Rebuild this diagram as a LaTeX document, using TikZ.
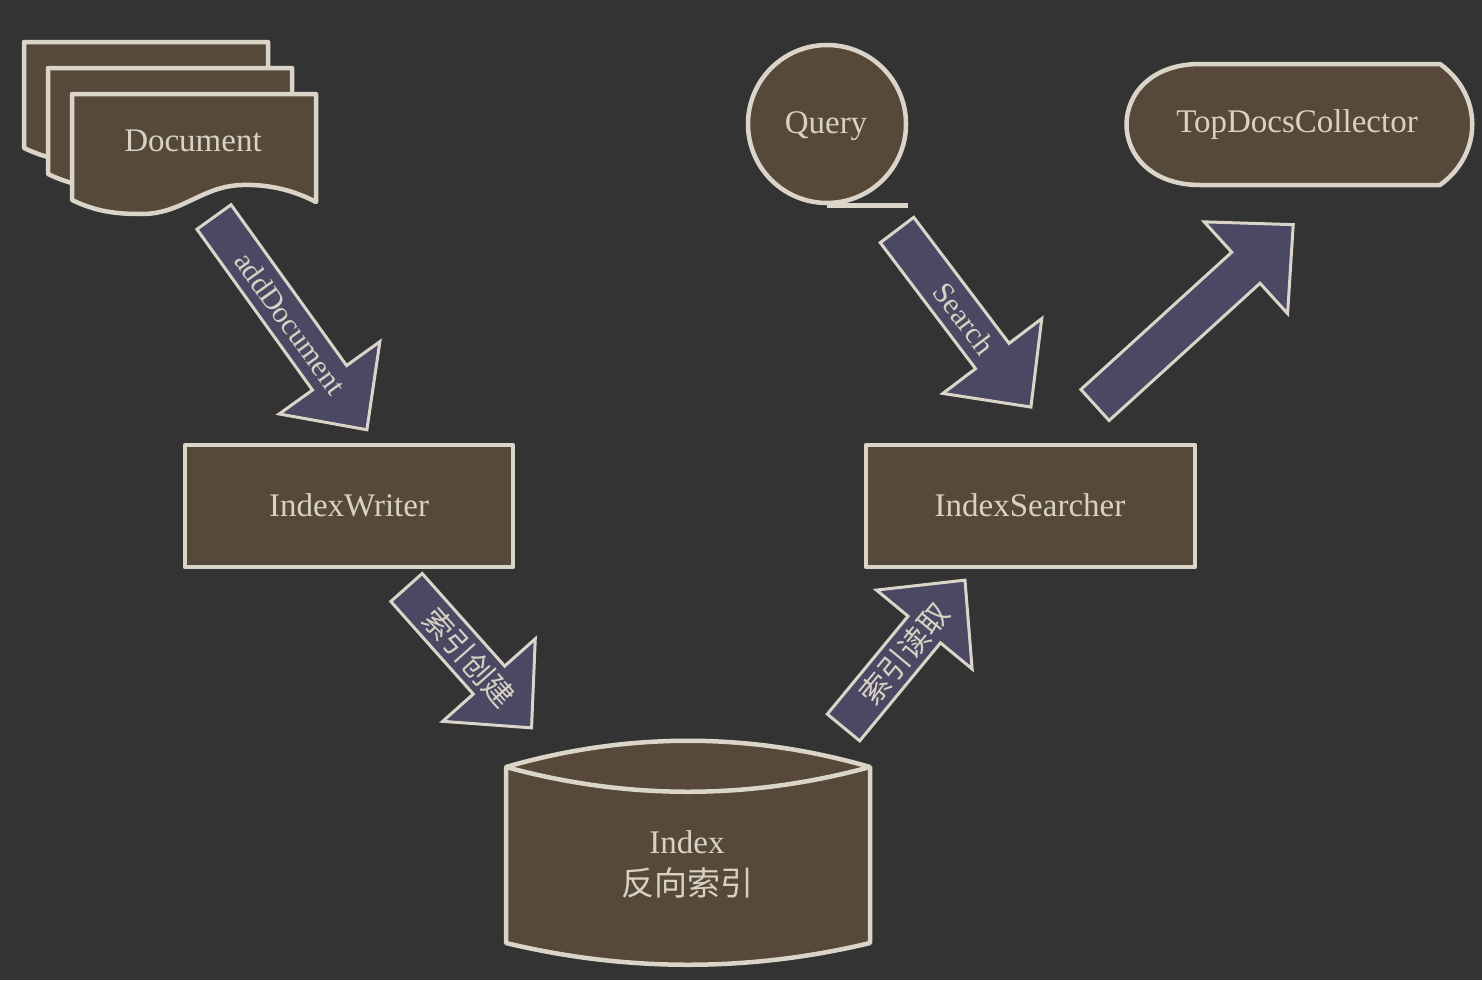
\documentclass[tikz,border=0pt]{standalone}
\usepackage{fontspec}
\setmainfont{Liberation Serif}
\newfontfamily\cjk{Noto Sans CJK SC}
\definecolor{bg}{HTML}{333333}
\definecolor{nodefill}{HTML}{57493A}
\definecolor{edgecol}{HTML}{DAD5C8}
\definecolor{arrfill}{HTML}{4A4862}
\definecolor{txtcol}{HTML}{D8D2C4}
\tikzset{
  shapesty/.style={draw=edgecol, line width=4.5pt, fill=nodefill, line join=round},
  linesty/.style={draw=edgecol, line width=4.5pt},
  arrowsty/.style={draw=edgecol, line width=3pt, fill=arrfill, line join=miter},
  lbl/.style={text=txtcol, font=\fontsize{33}{42}\selectfont, align=center, inner sep=0pt},
  alabel/.style={text=txtcol, font=\fontsize{30}{36}\selectfont, inner sep=0pt, transform shape},
}
\newcommand\blockarrow[6]{% name, x, y, angle, length, text
  \begin{scope}[shift={(#2,#3)},rotate=#4]
    \draw[arrowsty] (0,21) -- ({#5-64},21) -- ({#5-64},62) -- (#5,0) -- ({#5-64},-62) -- ({#5-64},-21) -- (0,-21) -- cycle;
    \node[alabel] (#1) at ({#5/2},0) {#6};
  \end{scope}}
\newcommand\docpage[2]{%
  \draw[shapesty, shift={(#1,#2)}] (0,0) -- (244,0) -- (244,108)
    .. controls (225,98) and (200,90) .. (170,91)
    .. controls (130,92) and (110,120) .. (70,120)
    .. controls (45,120) and (25,118) .. (0,106) -- cycle;}
\begin{document}
\begin{tikzpicture}[x=1pt,y=-1pt]
  \fill[bg] (0,0) rectangle (1482,980);
  \useasboundingbox (0,0) rectangle (1482,980);

  % Document stack
  \docpage{24}{42}
  \docpage{48}{68}
  \docpage{72}{94}
  \node[lbl] (doc) at (193,141) {Document};

  % Query (sequential storage)
  \node[shapesty, circle, minimum size=158, inner sep=0pt] (query) at (827,124) {};
  \node[lbl] (qtext) at (826,126) {Query};
  \draw[linesty] (query.south) -- (query.south -| query.east);

  % TopDocsCollector (display)
  \draw[shapesty] (1200,64) -- (1440,64)
    .. controls (1483,95) and (1483,154) .. (1440,185) -- (1200,185)
    .. controls (1102,185) and (1102,64) .. (1200,64) -- cycle;
  \node[lbl] (top) at (1297,125) {TopDocsCollector};

  % IndexWriter / IndexSearcher
  \node[shapesty, minimum width=328, minimum height=122] (writer) at (349,506) {};
  \node[lbl] (wtext) at (349,505) {IndexWriter};
  \node[shapesty, minimum width=329, minimum height=122] (searcher) at (1030.5,506) {};
  \node[lbl] (stext) at (1030,505) {IndexSearcher};

  % Index cylinder
  \draw[shapesty] (506,767) .. controls (627,732) and (749,732) .. (870,767)
    -- (870,943) .. controls (749,972) and (627,972) .. (506,943) -- cycle;
  \draw[linesty] (506,767) .. controls (627,800) and (749,800) .. (870,767);
  \node[lbl] (index) at (687,864) {Index\\{\cjk 反向索引}};

  % block arrows
  \blockarrow{a1}{214}{217}{-54.3}{262}{addDocument}
  \blockarrow{a2}{406.5}{587.5}{-48.3}{188}{\cjk 索引创建}
  \blockarrow{a3}{897}{230}{-52.9}{222}{Search}
  \blockarrow{a4}{843.5}{727.5}{50.5}{191}{\cjk 索引读取}
  \blockarrow{a5}{1095}{405}{42.3}{268}{}
\end{tikzpicture}
\end{document}
